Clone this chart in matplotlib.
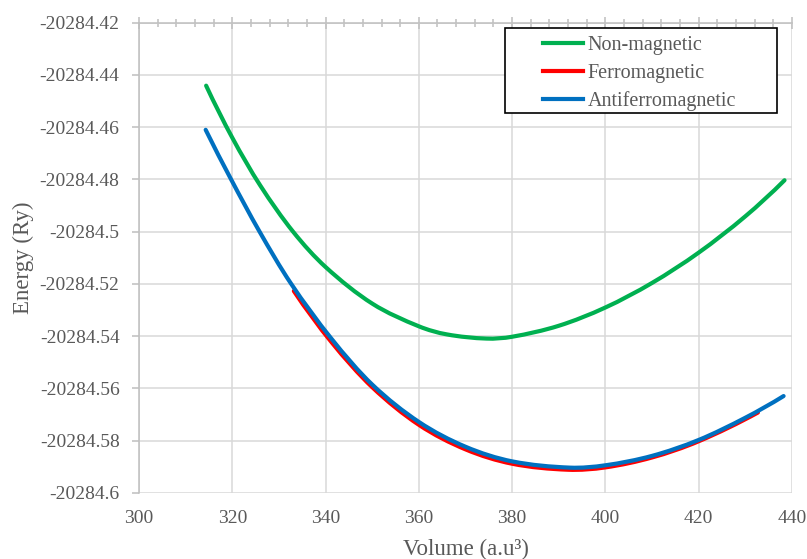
import numpy as np
import matplotlib.pyplot as plt
from matplotlib.ticker import MultipleLocator, FuncFormatter
from matplotlib.path import Path
from matplotlib.patches import PathPatch, Rectangle
from matplotlib.lines import Line2D

plt.rcParams['font.family'] = ['Liberation Serif', 'DejaVu Serif']

# Non-magnetic
vol_nm = np.array([314.4, 320, 326, 333, 340, 350, 360, 366, 374.5, 380, 390, 400, 410, 420, 430, 438.4])
e_nm = -20284.42 - np.array([.0241, .0440, .0623, .0799, .0935, .1075, .1162, .1193, .1209,
                             .1202, .1160, .1090, .0996, .0880, .0741, .0603])

# Ferromagnetic
vol_fm = np.array([333.2, 341.2, 350, 360, 370, 380, 392, 400, 410, 420, 432.7])
e_fm = -20284.42 - np.array([.1027, .1221, .1395, .1539, .1633, .1688, .1711, .1702, .1664, .1602, .1492])

# Antiferromagnetic
vol_afm = np.array([314.3, 319.7, 325.8, 332.5, 341.2, 350, 360, 370, 380, 392.4, 400, 410, 420, 430, 438.2])
e_afm = -20284.42 - np.array([.0410, .0598, .0798, .0996, .1208, .1385, .1528, .1623, .1679,
                              .1703, .1694, .1658, .1597, .1512, .1429])

names = ['Non-magnetic', 'Ferromagnetic', 'Antiferromagnetic']
colors = ['#00B050', '#FF0000', '#0070C0']


def smooth_path(x, y):
    # smoothed line like Excel: cubic bezier segments through the points
    n = len(x)
    m = np.empty(n)
    m[1:-1] = (y[2:] - y[:-2]) / (x[2:] - x[:-2])
    m[0] = 2 * (y[1] - y[0]) / (x[1] - x[0]) - m[1]
    m[-1] = 2 * (y[-1] - y[-2]) / (x[-1] - x[-2]) - m[-2]
    verts = [(x[0], y[0])]
    codes = [Path.MOVETO]
    for i in range(n - 1):
        h = (x[i + 1] - x[i]) / 3
        verts += [(x[i] + h, y[i] + h * m[i]), (x[i + 1] - h, y[i + 1] - h * m[i + 1]),
                  (x[i + 1], y[i + 1])]
        codes += [Path.CURVE4] * 3
    return Path(verts, codes)


txt = '#595959'
fig = plt.figure(figsize=(8.07, 5.59), dpi=100)
ax = fig.add_axes([0.1722, 0.1181, 0.8092, 0.8413])

for (vx, vy), c in zip([(vol_nm, e_nm), (vol_fm, e_fm), (vol_afm, e_afm)], colors):
    ax.add_patch(PathPatch(smooth_path(vx, vy), facecolor='none', edgecolor=c, lw=3,
                           capstyle='round', zorder=3))

ax.set_xlim(300, 440)
ax.set_ylim(-20284.6, -20284.42)
ax.xaxis.set_major_locator(MultipleLocator(20))
ax.xaxis.set_minor_locator(MultipleLocator(4))
ax.yaxis.set_major_locator(MultipleLocator(0.02))
ax.yaxis.set_major_formatter(FuncFormatter(lambda v, p: '{:.10g}'.format(round(v, 2))))

ax.grid(True, which='major', color='#D9D9D9', lw=1.1)
ax.set_axisbelow(True)
for s in ['bottom', 'right']:
    ax.spines[s].set_visible(False)
for s in ['top', 'left']:
    ax.spines[s].set_color('#BFBFBF')
    ax.spines[s].set_linewidth(1.1)

ax.tick_params(axis='x', which='both', bottom=False, top=True, labelbottom=True, labeltop=False,
               direction='inout', color='#BFBFBF', labelsize=14, labelcolor=txt, pad=8)
ax.tick_params(axis='x', which='major', length=9, width=1.1)
ax.tick_params(axis='x', which='minor', length=6, width=1.1)
ax.tick_params(axis='y', direction='out', length=5, width=1.1, color='#BFBFBF',
               labelsize=14, labelcolor=txt, pad=9)

ax.set_xlabel('Volume (a.u³)', fontsize=16.5, color=txt, labelpad=8)
ax.set_ylabel('Energy (Ry)', fontsize=16.5, color=txt, labelpad=4)

# legend box
fig.patches.append(Rectangle((505 / 807, 1 - 113 / 559), 272 / 807, 85 / 559,
                             transform=fig.transFigure, facecolor='white', edgecolor='black',
                             lw=1.2, zorder=5))
handles = [Line2D([], [], color=c, lw=3) for c in colors]
leg = fig.legend(handles, names, loc='upper left', bbox_to_anchor=(543 / 807, 1 - 36 / 559),
                 fontsize=14.5, frameon=False, handlelength=2.0, handletextpad=0.2,
                 labelspacing=0.42, borderpad=0, borderaxespad=0)
leg.set_zorder(6)
for t in leg.get_texts():
    t.set_color(txt)

fig.savefig('out.png', dpi=100)
